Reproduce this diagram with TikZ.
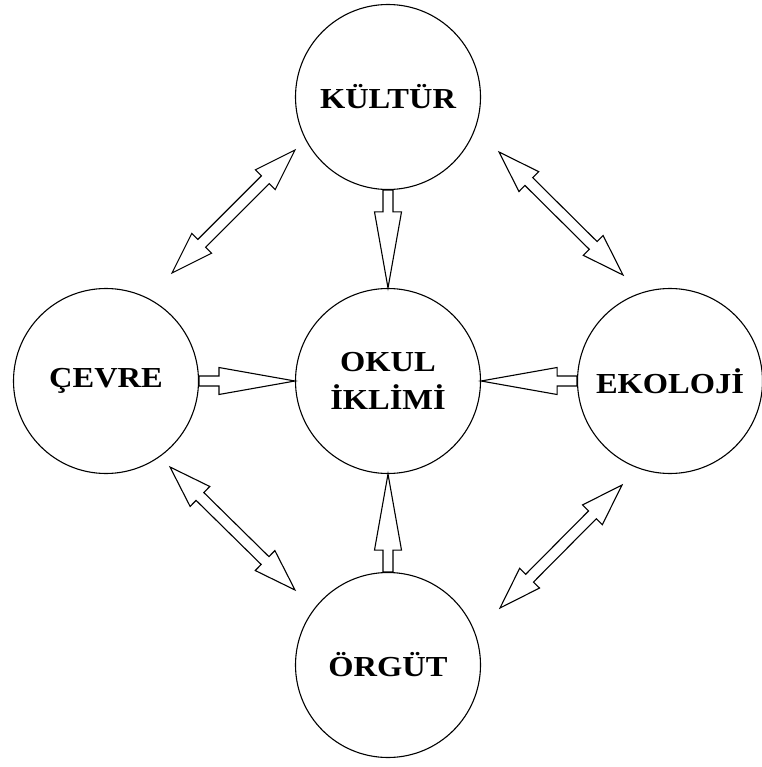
\documentclass[tikz,border=0pt]{standalone}
\usepackage{fontspec}
\setmainfont{Liberation Serif}[FakeStretch=1.12]
\usepackage{tikz}
\usetikzlibrary{calc}

\begin{document}
\begin{tikzpicture}[x=1pt,y=-1pt,line join=miter]
		\tikzstyle{topic}=[circle,draw,line width=1.1pt,minimum size=185pt,inner sep=0pt,
			align=center,font=\bfseries\fontsize{29}{38}\selectfont];
		\tikzstyle{onearrow}=[draw,fill=white,line width=1.1pt,to path={
			($(\tikztostart)!5pt!90:(\tikztotarget)$)
			--($($(\tikztotarget)!76pt!(\tikztostart)$)!5pt!90:(\tikztotarget)$)
			--($($(\tikztotarget)!76pt!(\tikztostart)$)!13.5pt!90:(\tikztotarget)$)
			--(\tikztotarget)
			--($($(\tikztotarget)!76pt!(\tikztostart)$)!13.5pt!-90:(\tikztotarget)$)
			--($($(\tikztotarget)!76pt!(\tikztostart)$)!5pt!-90:(\tikztotarget)$)
			--($(\tikztostart)!5pt!-90:(\tikztotarget)$)--cycle}];
		\tikzstyle{twoarrow}=[draw,fill=white,line width=1.1pt,to path={
			(\tikztostart)
			--($($(\tikztostart)!42pt!(\tikztotarget)$)!14pt!90:(\tikztotarget)$)
			--($($(\tikztostart)!42pt!(\tikztotarget)$)!5.5pt!90:(\tikztotarget)$)
			--($($(\tikztotarget)!42pt!(\tikztostart)$)!5.5pt!90:(\tikztotarget)$)
			--($($(\tikztotarget)!42pt!(\tikztostart)$)!14pt!90:(\tikztotarget)$)
			--(\tikztotarget)
			--($($(\tikztotarget)!42pt!(\tikztostart)$)!14pt!-90:(\tikztotarget)$)
			--($($(\tikztotarget)!42pt!(\tikztostart)$)!5.5pt!-90:(\tikztotarget)$)
			--($($(\tikztostart)!42pt!(\tikztotarget)$)!5.5pt!-90:(\tikztotarget)$)
			--($($(\tikztostart)!42pt!(\tikztotarget)$)!14pt!-90:(\tikztotarget)$)--cycle}];
		\useasboundingbox(0,0)rectangle(761,767);

		\node[topic](okul)at(388,381){OKUL\\İKLİMİ};
		\node[topic](kultur)at(388,97){KÜLTÜR};
		\node[topic](cevre)at(106,381){ÇEVRE};
		\node[topic](ekoloji)at(670,381){EKOLOJİ};
		\node[topic](orgut)at(388,665){ÖRGÜT};

		\draw[onearrow](kultur.south)to(okul.north);
		\draw[onearrow](cevre.east)to(okul.west);
		\draw[onearrow](ekoloji.west)to(okul.east);
		\draw[onearrow](orgut.north)to(okul.south);

		% free ends of the double arrows
		\coordinate(kc1)at(295,150);\coordinate(kc2)at(172,273);
		\coordinate(ke1)at(499,152);\coordinate(ke2)at(623,275);
		\coordinate(co1)at(170,467);\coordinate(co2)at(295,590);
		\coordinate(eo1)at(622,485);\coordinate(eo2)at(500,608);
		\draw[twoarrow](kc1)to(kc2);
		\draw[twoarrow](ke1)to(ke2);
		\draw[twoarrow](co1)to(co2);
		\draw[twoarrow](eo1)to(eo2);
	\end{tikzpicture}
\end{document}
